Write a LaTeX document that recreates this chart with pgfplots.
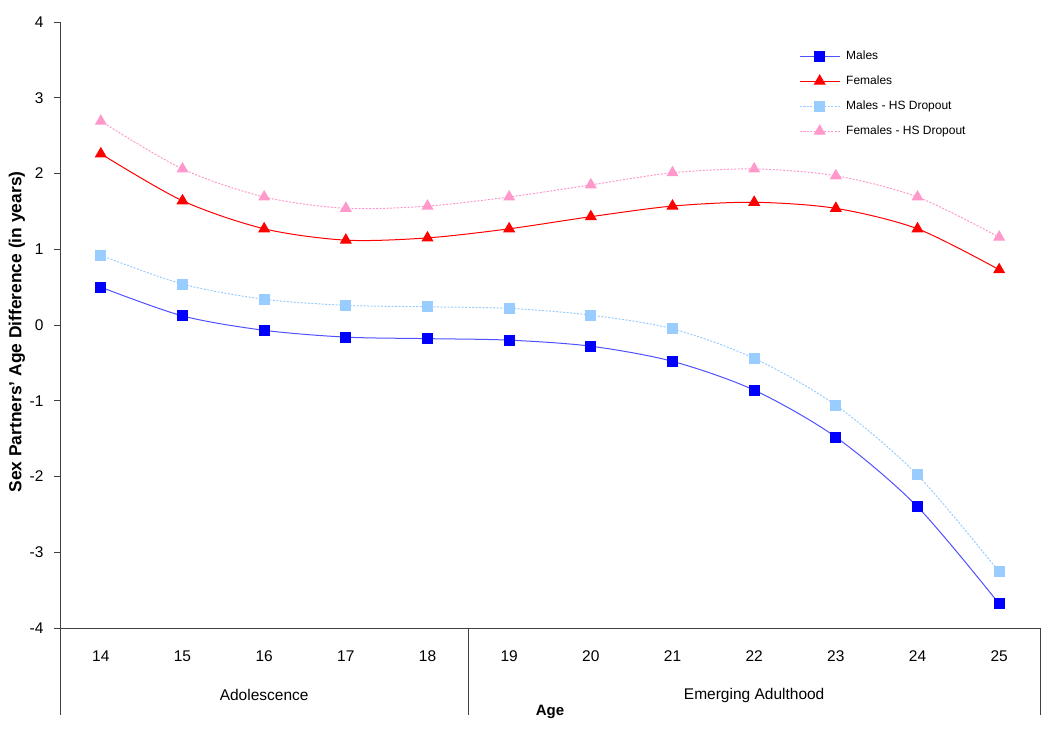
\documentclass[border=0pt]{standalone}
\usepackage{pgfplots}
\pgfplotsset{compat=1.18}
\usepackage{fontspec}
\setmainfont{Liberation Sans}
\definecolor{mblue}{RGB}{0,0,255}
\definecolor{mline}{RGB}{80,80,255}
\definecolor{fred}{RGB}{255,0,0}
\definecolor{lblue}{RGB}{153,204,255}
\definecolor{lpink}{RGB}{255,153,204}
\begin{document}
\begin{tikzpicture}
\useasboundingbox (0pt,0pt) rectangle (1050pt,729pt);
\begin{axis}[
  at={(60pt,101pt)}, anchor=south west,
  scale only axis, width=980pt, height=606pt,
  xmin=13.5, xmax=25.5, ymin=-4, ymax=4,
  clip=false,
  axis lines*=left,
  axis line style={black!75, line width=0.9pt, -},
  xtick={14,...,25},
  xticklabels={14,15,16,17,18,19,20,21,22,23,24,25},
  xtick style={draw=none},
  xticklabel style={font=\fontsize{15.5}{18}\selectfont, yshift=-13pt},
  ytick={-4,...,4},
  yticklabels={-4,-3,-2,-1,0,1,2,3,4},
  yticklabel style={font=\fontsize{15.5}{18}\selectfont, xshift=-7pt},
  tick align=outside,
  major tick length=6pt,
  ytick style={black!75, line width=0.9pt},
  ylabel={\bfseries Sex Partners' Age Difference (in years)},
  ylabel style={font=\fontsize{17.4}{20}\selectfont, at={(axis description cs:0,0.5)}, anchor=center, yshift=43pt, xshift=-7pt},
  xlabel={\bfseries Age},
  xlabel style={font=\fontsize{15}{18}\selectfont, at={(axis description cs:0.5,0)}, anchor=center, yshift=-84pt},
  legend style={draw=none, fill=none, at={(axis description cs:0.751,0.959)}, anchor=north west, font=\fontsize{12}{14}\selectfont, row sep=10.8pt, column sep=4pt, cells={anchor=west}},
  legend cell align=left,
  legend image code/.code={\draw[mark repeat=2,mark phase=2,#1] plot coordinates {(0pt,0pt) (20pt,0pt) (40pt,0pt)};},
]
\addplot[mline, line width=1pt, smooth, mark=square*, mark size=5pt, mark options={solid, mblue, fill=mblue}] coordinates {
(14,0.50) (15,0.12) (16,-0.07) (17,-0.16) (18,-0.18) (19,-0.20) (20,-0.28) (21,-0.48) (22,-0.86) (23,-1.48) (24,-2.40) (25,-3.68)};
\addlegendentry{Males}
\addplot[fred, line width=1pt, smooth, mark=triangle*, mark size=6pt, mark options={solid, fred, fill=fred}] coordinates {
(14,2.26) (15,1.64) (16,1.27) (17,1.12) (18,1.15) (19,1.27) (20,1.43) (21,1.57) (22,1.62) (23,1.54) (24,1.27) (25,0.73)};
\addlegendentry{Females}
\addplot[lblue, line width=1pt, dash pattern=on 2pt off 1.5pt, smooth, mark=square*, mark size=5pt, mark options={solid, lblue, fill=lblue}] coordinates {
(14,0.92) (15,0.54) (16,0.34) (17,0.26) (18,0.24) (19,0.22) (20,0.13) (21,-0.05) (22,-0.44) (23,-1.06) (24,-1.98) (25,-3.26)};
\addlegendentry{Males - HS Dropout}
\addplot[lpink, line width=1pt, dash pattern=on 2pt off 1.5pt, smooth, mark=triangle*, mark size=6pt, mark options={solid, lpink, fill=lpink}] coordinates {
(14,2.69) (15,2.06) (16,1.69) (17,1.54) (18,1.57) (19,1.69) (20,1.85) (21,2.01) (22,2.06) (23,1.97) (24,1.69) (25,1.16)};
\addlegendentry{Females - HS Dropout}
\draw[black!75, line width=0.9pt] (axis cs:13.5,-4) -- ++(0pt,-87pt);
\draw[black!75, line width=0.9pt] (axis cs:18.5,-4) -- ++(0pt,-87pt);
\draw[black!75, line width=0.9pt] (axis cs:25.5,-4) -- ++(0pt,-87pt);
\node[font=\fontsize{15.5}{18}\selectfont] at ([yshift=-67pt]axis cs:16,-4) {Adolescence};
\node[font=\fontsize{15.5}{18}\selectfont] at ([yshift=-67pt]axis cs:22,-4) {Emerging Adulthood};
\end{axis}
\end{tikzpicture}
\end{document}
